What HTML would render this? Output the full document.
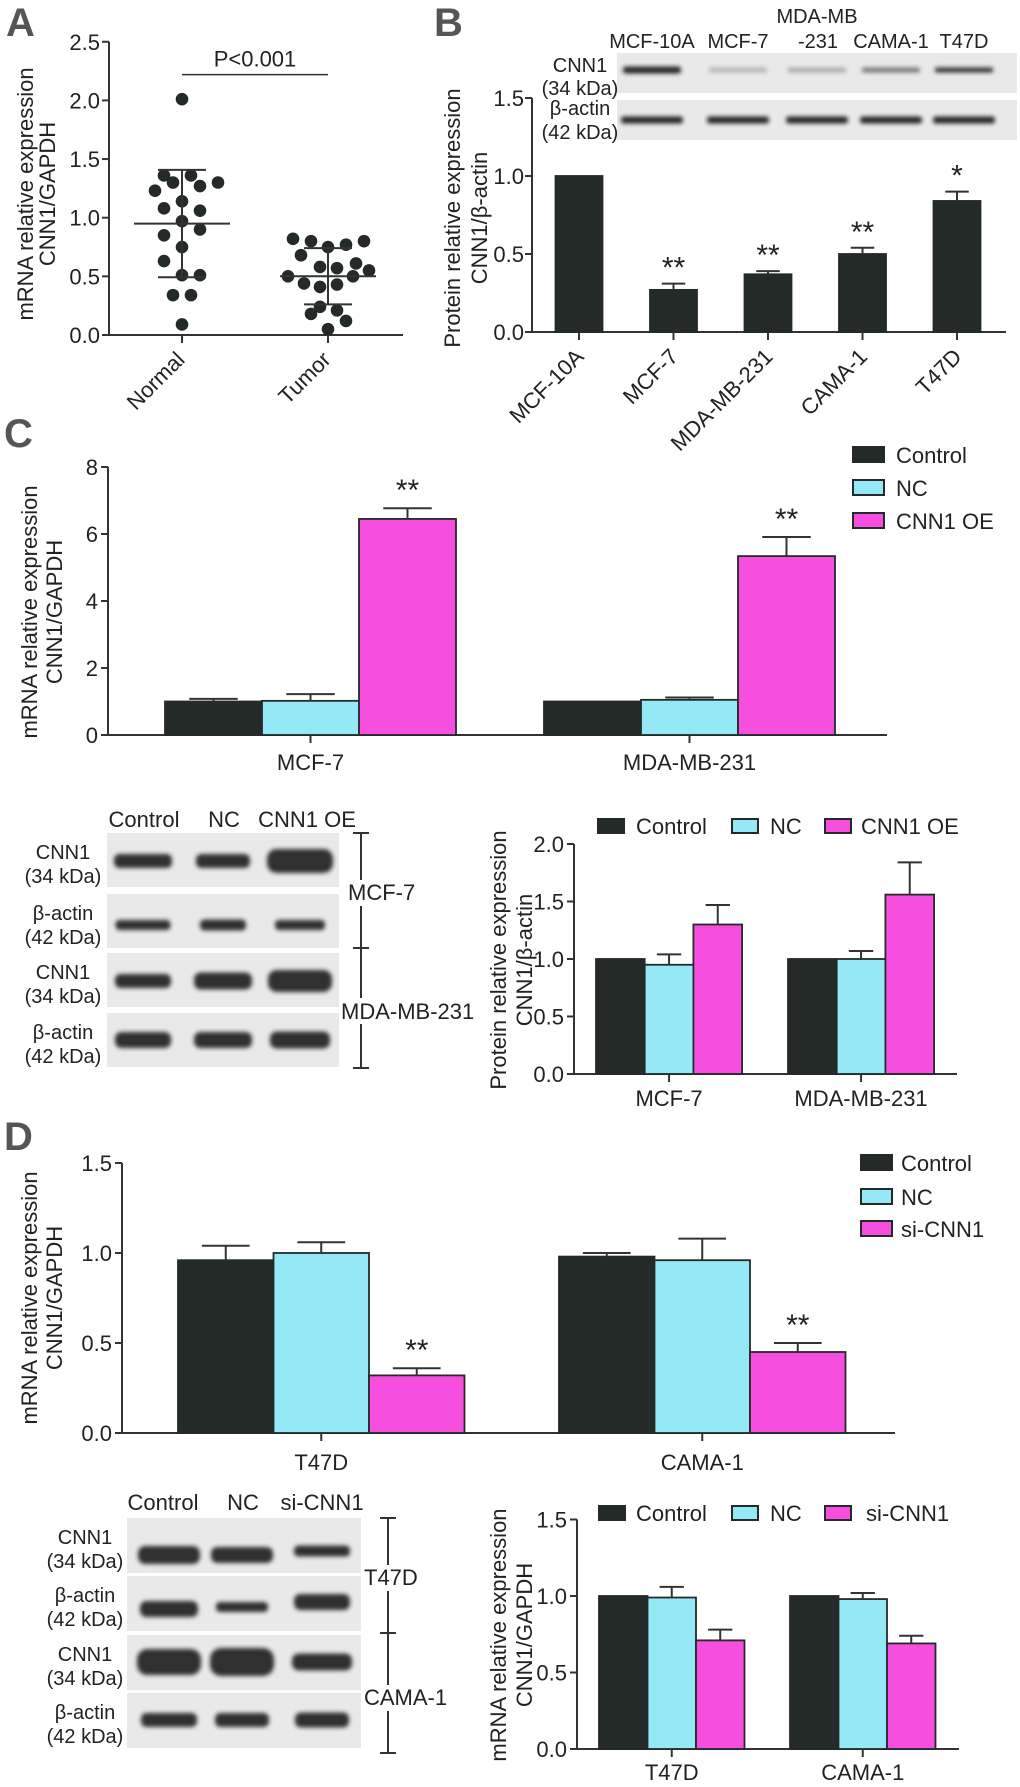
<!DOCTYPE html>
<html><head><meta charset="utf-8"><style>
html,body{margin:0;padding:0;background:#fff;}
svg{display:block;font-family:"Liberation Sans",Arial,sans-serif;}
</style></head><body>
<svg id="fig" width="1020" height="1787" viewBox="0 0 1020 1787" xmlns="http://www.w3.org/2000/svg">
<defs>
<filter id="blur" x="-30%" y="-100%" width="160%" height="300%"><feGaussianBlur stdDeviation="2.2"/></filter>
</defs>
</svg>
<script>
// ---------- Panel A data ----------
const aCats = ['Normal', 'Tumor'];
const aNormal = [2.01,1.36,1.36,1.30,1.23,1.27,1.30,1.14,1.08,1.06,0.97,0.90,0.85,0.75,0.63,0.51,0.51,0.34,0.34,0.09];
const aTumor = [0.82,0.80,0.75,0.77,0.80,0.68,0.58,0.57,0.61,0.55,0.50,0.44,0.41,0.43,0.50,0.18,0.24,0.21,0.12,0.05];
const aTicks = ['0.0','0.5','1.0','1.5','2.0','2.5'];
// ---------- Panel B data ----------
const bCats = ['MCF-10A','MCF-7','MDA-MB-231','CAMA-1','T47D'];
const bVals = [1.0,0.27,0.37,0.50,0.84];
const bErr = [0,0.04,0.02,0.04,0.06];
const bStars = ['','**','**','**','*'];
const bTicks = ['0.0','0.5','1.0','1.5'];
// ---------- Panel C (mRNA) ----------
const cCats = ['MCF-7','MDA-MB-231'];
const cControl = [1.0,1.0];
const cControlErr = [0.08,0];
const cNC = [1.02,1.05];
const cNCErr = [0.20,0.07];
const cOE = [6.45,5.34];
const cOEErr = [0.32,0.57];
const cStars = ['**','**'];
const cTicks = ['0','2','4','6','8'];
// ---------- Panel C (protein) ----------
const c2Control = [1.0,1.0];
const c2ControlErr = [0,0];
const c2NC = [0.95,1.0];
const c2NCErr = [0.09,0.07];
const c2OE = [1.30,1.56];
const c2OEErr = [0.17,0.28];
const c2Ticks = ['0.0','0.5','1.0','1.5','2.0'];
// ---------- Panel D (mRNA) ----------
const dCats = ['T47D','CAMA-1'];
const dControl = [0.96,0.98];
const dControlErr = [0.08,0.02];
const dNC = [1.0,0.96];
const dNCErr = [0.06,0.12];
const dSi = [0.32,0.45];
const dSiErr = [0.04,0.05];
const dStars = ['**','**'];
const dTicks = ['0.0','0.5','1.0','1.5'];
// ---------- Panel D (second) ----------
const d2Control = [1.0,1.0];
const d2ControlErr = [0,0];
const d2NC = [0.99,0.98];
const d2NCErr = [0.07,0.04];
const d2Si = [0.71,0.69];
const d2SiErr = [0.07,0.05];

const NS = 'http://www.w3.org/2000/svg';
const svg = document.getElementById('fig');
const DARK = '#232a28', CYAN = '#95e9f7', PINK = '#f64fe0', AX = '#333';

function mk(tag, attrs, parent){
  const e = document.createElementNS(NS, tag);
  for (const k in attrs) e.setAttribute(k, attrs[k]);
  (parent || svg).appendChild(e);
  return e;
}
function txt(parent, x, y, s, size, anchor, rot, weight, fill){
  const t = mk('text', {x:x, y:y, 'font-size':size, 'text-anchor':anchor||'start', fill:fill||'#222'}, parent);
  if (weight) t.setAttribute('font-weight', weight);
  if (rot) t.setAttribute('transform', 'rotate(' + rot + ' ' + x + ' ' + y + ')');
  t.textContent = s;
  return t;
}
function grp(parent){ return mk('g', {}, parent); }

function yAxis(g, x0, y0, ppu, ticks, step, tickLabelX){
  const top = y0 - (ticks.length - 1) * step * ppu;
  const ax = mk('line', {x1:x0, y1:y0, x2:x0, y2:top, stroke:AX, 'stroke-width':2}, g);
  
  
  ticks.forEach((lab, i) => {
    const y = y0 - i * step * ppu;
    const tk = mk('line', {x1:x0 - 7, y1:y, x2:x0, y2:y, stroke:AX, 'stroke-width':2}, g);
    
    
    const tl = txt(g, tickLabelX, y + 8, lab, 22, 'end');
    
    
  });
}
function xAxisLine(g, x0, x1, y0){
  const l = mk('line', {x1:x0, y1:y0, x2:x1, y2:y0, stroke:AX, 'stroke-width':2}, g);
  
  
}
function yTitle(g, x1, x2, cy, l1, l2){
  const t1 = txt(g, x1, cy, l1, 22, 'middle', -90);
  
  
  const t2 = txt(g, x2, cy, l2, 22, 'middle', -90);
  
  
}
function panelLetter(x, y, s){
  const t = txt(svg, x, y, s, 40, 'start', 0, 'bold', '#555');
  
  
}
function bar(g, x, w, y0, val, ppu, fill, err, capW, name){
  const h = val * ppu;
  const r = mk('rect', {x:x, y:y0 - h, width:w, height:h, fill:fill, stroke:DARK, 'stroke-width':1.8}, g);
  
  
  let topY = y0 - h;
  if (err > 0){
    const ey = y0 - (val + err) * ppu;
    const cx = x + w / 2;
    const v = mk('line', {x1:cx, y1:y0 - h, x2:cx, y2:ey, stroke:AX, 'stroke-width':2}, g);
    
    
    const c = mk('line', {x1:cx - capW/2, y1:ey, x2:cx + capW/2, y2:ey, stroke:AX, 'stroke-width':2}, g);
    
    
    topY = ey;
  }
  return topY;
}
function legendEntry(g, bx, by, bw, bh, fill, tx, ty, label){
  const lg = grp(g);
  
  
  const r = mk('rect', {x:bx, y:by, width:bw, height:bh, fill:fill, stroke:DARK, 'stroke-width':2}, lg);
  
  
  const t = txt(lg, tx, ty, label, 22, 'start');
  
  
}
function groupedChart(cfg){
  const g = grp(svg);
  
  
  yAxis(g, cfg.x0, cfg.y0, cfg.ppu, cfg.ticks, cfg.step, cfg.x0 - 10);
  xAxisLine(g, cfg.x0, cfg.xEnd, cfg.y0);
  cfg.cats.forEach((cat, i) => {
    const start = cfg.starts[i];
    let tops = [];
    cfg.series.forEach((s, j) => {
      tops.push(bar(g, start + j * cfg.bw, cfg.bw, cfg.y0, s.vals[i], cfg.ppu, s.color, s.errs[i], cfg.bw * 0.5, 'bar-' + cat.toLowerCase() + '-' + s.key));
    });
    const cx = start + cfg.bw * 1.5;
    const tk = mk('line', {x1:cx, y1:cfg.y0, x2:cx, y2:cfg.y0 + 8, stroke:AX, 'stroke-width':2}, g);
    
    
    const tl = txt(g, cx, cfg.labelY, cat, 22, 'middle');
    
    
    if (cfg.stars){
      const st = txt(g, start + cfg.bw * 2.5, tops[2] - 8, cfg.stars[i], 30, 'middle');
      
      
    }
  });
  return g;
}

// ================= Panel A =================
(function(){
  panelLetter(6, 36, 'A');
  const g = grp(svg);
  
  
  const x0 = 109, y0 = 335, ppu = 117.3, cxs = [182, 328];
  const dxN = [0,-18,9,-9,-27,18,36,0,-18,18,0,18,-18,0,-18,0,18,-9,9,0];
  const dxT = [-35,-17,0,18,36,-27,-8,9,28,41,-40,-24,-8,9,25,-17,-8,9,18,0];
  yAxis(g, x0, y0, ppu, aTicks, 0.5, 100);
  xAxisLine(g, x0, 403, y0);
  yTitle(g, 33, 55, 194, 'mRNA relative expression', 'CNN1/GAPDH');
  [aNormal, aTumor].forEach((vals, k) => {
    const cx = cxs[k], dx = k === 0 ? dxN : dxT;
    vals.forEach((v, i) => {
      const c = mk('circle', {cx:cx + dx[i], cy:y0 - v * ppu, r:6.3, fill:DARK}, g);
      
      
    });
    const mean = vals.reduce((a,b)=>a+b,0) / vals.length;
    const sd = Math.sqrt(vals.reduce((a,b)=>a+(b-mean)*(b-mean),0) / (vals.length - 1));
    const ym = y0 - mean * ppu, yl = y0 - (mean - sd) * ppu, yh = y0 - (mean + sd) * ppu;
    const ml = mk('line', {x1:cx-48, y1:ym, x2:cx+48, y2:ym, stroke:AX, 'stroke-width':2}, g);
    
    
    const vl = mk('line', {x1:cx, y1:yh, x2:cx, y2:yl, stroke:AX, 'stroke-width':2}, g);
    
    
    const c1 = mk('line', {x1:cx-24, y1:yh, x2:cx+24, y2:yh, stroke:AX, 'stroke-width':2}, g);
    
    
    const c2 = mk('line', {x1:cx-24, y1:yl, x2:cx+24, y2:yl, stroke:AX, 'stroke-width':2}, g);
    
    
    const tk = mk('line', {x1:cx, y1:y0, x2:cx, y2:y0 + 8, stroke:AX, 'stroke-width':2}, g);
    
    
    const tl = txt(g, cx + 4, y0 + 26, aCats[k], 22, 'end', -45);
    
    
  });
  const sy = y0 - 2.22 * ppu;
  const pl = mk('line', {x1:cxs[0], y1:sy, x2:cxs[1], y2:sy, stroke:AX, 'stroke-width':1.5}, g);
  
  
  const pt = txt(g, 255, sy - 8, 'P<0.001', 22, 'middle');
  
  
})();

// ---------- blot helpers ----------
function strip(g, x, y, w, h, name){
  const r = mk('rect', {x:x, y:y, width:w, height:h, fill:'#e9e9e9'}, g);
  
  
}
function band(g, cx, cy, w, h, op){
  const b = mk('rect', {x:cx - w/2, y:cy - h/2, width:w, height:h, rx:h/2.5, fill:'#1a1a1a', opacity:op, filter:'url(#blur)'}, g);
  
  
}
function lbl(g, x, y, s, size, anchor, name){
  const t = txt(g, x, y, s, size, anchor);
  
  
  return t;
}

// ================= Panel B =================
(function(){
  panelLetter(434, 36, 'B');
  const g = grp(svg);
  
  
  strip(g, 617, 53, 400, 40, 'cnn1-strip');
  strip(g, 617, 100, 400, 40, 'actin-strip');
  const lanes = [652, 738, 817, 891, 964];
  const cnnOp = [0.95, 0.25, 0.3, 0.55, 0.9];
  lanes.forEach((x, i) => { band(g, x, 70, 58, i === 0 ? 7 : 5, cnnOp[i]); band(g, x, 120, 62, 7, 0.95); });
  lbl(g, 652, 48, 'MCF-10A', 20, 'middle', 'lane-label');
  lbl(g, 738, 48, 'MCF-7', 20, 'middle', 'lane-label');
  lbl(g, 817, 23, 'MDA-MB', 20, 'middle', 'lane-label');
  lbl(g, 818, 48, '-231', 20, 'middle', 'lane-label-cont');
  lbl(g, 891, 48, 'CAMA-1', 20, 'middle', 'lane-label');
  lbl(g, 964, 48, 'T47D', 20, 'middle', 'lane-label');
  lbl(g, 580, 72, 'CNN1', 20, 'middle', 'row-label');
  lbl(g, 580, 95, '(34 kDa)', 20, 'middle', 'row-label-kda');
  lbl(g, 580, 115, 'β-actin', 20, 'middle', 'row-label');
  lbl(g, 580, 139, '(42 kDa)', 20, 'middle', 'row-label-kda');

  const c = grp(svg);
  
  
  const x0 = 532, y0 = 332, ppu = 156, bw = 47;
  yAxis(c, x0, y0, ppu, bTicks, 0.5, 524);
  xAxisLine(c, x0, 1006, y0);
  yTitle(c, 460, 487, 218, 'Protein relative expression', 'CNN1/β-actin');
  bCats.forEach((cat, i) => {
    const cx = 579 + i * 94.5;
    const top = bar(c, cx - bw/2, bw, y0, bVals[i], ppu, DARK, bErr[i], bw * 0.5, 'bar-' + cat.toLowerCase());
    if (bStars[i]){
      const st = txt(c, cx, top - 6, bStars[i], 30, 'middle');
      
      
    }
    const tk = mk('line', {x1:cx, y1:y0, x2:cx, y2:y0 + 8, stroke:AX, 'stroke-width':2}, c);
    
    
    const tl = txt(c, cx + 6, y0 + 26, cat, 22, 'end', -45);
    
    
  });
})();

// ================= Panel C =================
panelLetter(4, 447, 'C');
groupedChart({name:'panel-c-mrna-chart', x0:108, y0:735, ppu:33.5, step:2, ticks:cTicks, xEnd:887,
  cats:cCats, starts:[165, 544], bw:97, labelY:770, stars:cStars,
  series:[{key:'control', vals:cControl, errs:cControlErr, color:DARK},
          {key:'nc', vals:cNC, errs:cNCErr, color:CYAN},
          {key:'oe', vals:cOE, errs:cOEErr, color:PINK}]});
(function(){
  const g = grp(svg);
  
  
  yTitle(g, 37, 62, 612, 'mRNA relative expression', 'CNN1/GAPDH');
  legendEntry(g, 853, 447, 31, 15, DARK, 896, 463, 'Control');
  legendEntry(g, 853, 480, 31, 15, CYAN, 896, 496, 'NC');
  legendEntry(g, 853, 513, 31, 15, PINK, 896, 529, 'CNN1 OE');
})();

// C blot
(function(){
  const g = grp(svg);
  
  
  const tops = [833, 894, 953, 1013], lanes = [143, 223, 300];
  const spec = [[[58,14],[54,14],[66,24]], [[55,10],[46,11],[50,10]], [[56,14],[58,17],[64,22]], [[56,16],[58,16],[60,17]]];
  const cyOff = [28, 31, 28, 27];
  tops.forEach((t, r) => {
    strip(g, 107, t, 232, 54, 'blot-strip');
    lanes.forEach((x, i) => band(g, x, t + cyOff[r], spec[r][i][0], spec[r][i][1], 0.9));
    lbl(g, 63, t + 26, r % 2 === 0 ? 'CNN1' : 'β-actin', 20, 'middle', 'row-label');
    lbl(g, 63, t + 50, r % 2 === 0 ? '(34 kDa)' : '(42 kDa)', 20, 'middle', 'row-label-kda');
  });
  lbl(g, 144, 827, 'Control', 22, 'middle', 'lane-label');
  lbl(g, 224, 827, 'NC', 22, 'middle', 'lane-label');
  lbl(g, 307, 827, 'CNN1 OE', 22, 'middle', 'lane-label');
  const br = mk('path', {d:'M353 833 H369 M361 833 V1068 M353 948 H369 M353 1068 H369', stroke:AX, 'stroke-width':2, fill:'none'}, g);
  
  
  const w1 = mk('rect', {x:346, y:880, width:64, height:26, fill:'#fff'}, g);
  
  
  const w2 = mk('rect', {x:340, y:998, width:136, height:26, fill:'#fff'}, g);
  
  
  lbl(g, 348, 900, 'MCF-7', 22, 'start', 'cell-line-label');
  lbl(g, 341, 1019, 'MDA-MB-231', 22, 'start', 'cell-line-label');
})();

groupedChart({name:'panel-c-protein-chart', x0:574, y0:1074, ppu:115, step:0.5, ticks:c2Ticks, xEnd:957,
  cats:cCats, starts:[596, 788], bw:48.7, labelY:1106,
  series:[{key:'control', vals:c2Control, errs:c2ControlErr, color:DARK},
          {key:'nc', vals:c2NC, errs:c2NCErr, color:CYAN},
          {key:'oe', vals:c2OE, errs:c2OEErr, color:PINK}]});
(function(){
  const g = grp(svg);
  
  
  yTitle(g, 506, 532, 960, 'Protein relative expression', 'CNN1/β-actin');
  legendEntry(g, 598, 819, 26, 14, DARK, 636, 834, 'Control');
  legendEntry(g, 732, 819, 26, 14, CYAN, 770, 834, 'NC');
  legendEntry(g, 825, 819, 26, 14, PINK, 861, 834, 'CNN1 OE');
})();

// ================= Panel D =================
panelLetter(4, 1150, 'D');
groupedChart({name:'panel-d-mrna-chart', x0:122, y0:1433, ppu:180, step:0.5, ticks:dTicks, xEnd:895,
  cats:dCats, starts:[178, 559], bw:95.5, labelY:1470, stars:dStars,
  series:[{key:'control', vals:dControl, errs:dControlErr, color:DARK},
          {key:'nc', vals:dNC, errs:dNCErr, color:CYAN},
          {key:'si', vals:dSi, errs:dSiErr, color:PINK}]});
(function(){
  const g = grp(svg);
  
  
  yTitle(g, 37, 62, 1298, 'mRNA relative expression', 'CNN1/GAPDH');
  legendEntry(g, 861, 1155, 31, 15, DARK, 901, 1171, 'Control');
  legendEntry(g, 861, 1189, 31, 15, CYAN, 901, 1205, 'NC');
  legendEntry(g, 861, 1221, 31, 15, PINK, 901, 1237, 'si-CNN1');
})();

// D blot
(function(){
  const g = grp(svg);
  
  
  const tops = [1518, 1576, 1635, 1693], lanes = [169, 242, 322];
  const spec = [[[62,18],[62,16],[56,11]], [[58,16],[52,10],[56,16]], [[64,26],[64,28],[60,17]], [[56,14],[54,14],[54,15]]];
  const cyOff = [[37,37,33],[33,31,26],[27,27,27],[27,27,27]];
  tops.forEach((t, r) => {
    strip(g, 127, t, 234, 55, 'blot-strip');
    lanes.forEach((x, i) => band(g, x, t + cyOff[r][i], spec[r][i][0], spec[r][i][1], 0.9));
    lbl(g, 85, t + 26, r % 2 === 0 ? 'CNN1' : 'β-actin', 20, 'middle', 'row-label');
    lbl(g, 85, t + 50, r % 2 === 0 ? '(34 kDa)' : '(42 kDa)', 20, 'middle', 'row-label-kda');
  });
  lbl(g, 163, 1510, 'Control', 22, 'middle', 'lane-label');
  lbl(g, 243, 1510, 'NC', 22, 'middle', 'lane-label');
  lbl(g, 322, 1510, 'si-CNN1', 22, 'middle', 'lane-label');
  const br = mk('path', {d:'M380 1518 H396 M388 1518 V1753 M380 1633 H396 M380 1753 H396', stroke:AX, 'stroke-width':2, fill:'none'}, g);
  
  
  const w1 = mk('rect', {x:362, y:1565, width:54, height:26, fill:'#fff'}, g);
  
  
  const w2 = mk('rect', {x:362, y:1685, width:78, height:26, fill:'#fff'}, g);
  
  
  lbl(g, 364, 1585, 'T47D', 22, 'start', 'cell-line-label');
  lbl(g, 364, 1705, 'CAMA-1', 22, 'start', 'cell-line-label');
})();

groupedChart({name:'panel-d-second-chart', x0:577, y0:1749, ppu:153, step:0.5, ticks:dTicks, xEnd:959,
  cats:dCats, starts:[599, 790], bw:48.5, labelY:1780,
  series:[{key:'control', vals:d2Control, errs:d2ControlErr, color:DARK},
          {key:'nc', vals:d2NC, errs:d2NCErr, color:CYAN},
          {key:'si', vals:d2Si, errs:d2SiErr, color:PINK}]});
(function(){
  const g = grp(svg);
  
  
  yTitle(g, 506, 532, 1635, 'mRNA relative expression', 'CNN1/GAPDH');
  legendEntry(g, 599, 1506, 26, 14, DARK, 636, 1521, 'Control');
  legendEntry(g, 732, 1506, 26, 14, CYAN, 770, 1521, 'NC');
  legendEntry(g, 825, 1506, 26, 14, PINK, 866, 1521, 'si-CNN1');
})();
</script>
</body></html>
